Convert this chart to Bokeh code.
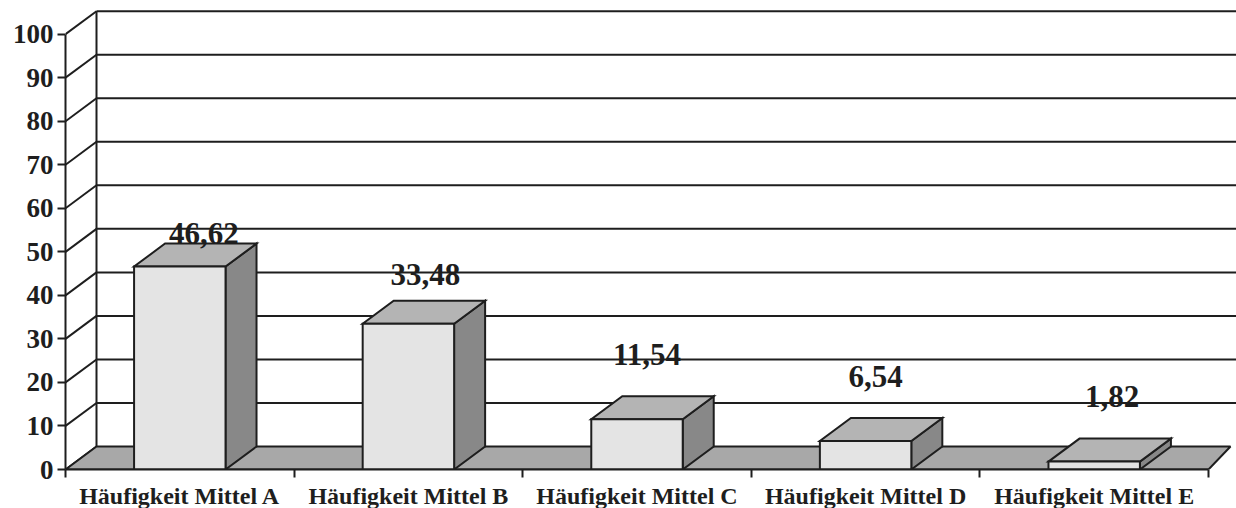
from bokeh.plotting import figure
from bokeh.models import Range1d, FixedTicker, ColumnDataSource
from bokeh.embed import file_html
from bokeh.resources import INLINE
from bokeh.core.properties import value

# ---- data ----
categories = ["Häufigkeit Mittel A", "Häufigkeit Mittel B", "Häufigkeit Mittel C",
              "Häufigkeit Mittel D", "Häufigkeit Mittel E"]
values = [46.62, 33.48, 11.54, 6.54, 1.82]
value_labels = ["46,62", "33,48", "11,54", "6,54", "1,82"]
y_ticks = [0, 10, 20, 30, 40, 50, 60, 70, 80, 90, 100]

# ---- layout / style ----
PX_CAT = 228.6          # pixels per category
PX_UNIT = 4.353         # pixels per value unit
FRAME_W, FRAME_H = 1171, 461
DDX = 31 / PX_CAT       # depth offset (x, in category units)
DDY = 23 / PX_UNIT      # depth offset (y, in value units)
FLOOR_DDX = 22 / PX_CAT
BAR_HALF = 0.2
# label placement tweaks (px), as in the reference
label_dx_px = [24, 17, 10, 10, 18]
label_dy_px = [33, 49, 65, 65, 65]

LINE = "#1e1e1e"
FONT = "Liberation Serif"
n = len(categories)

p = figure(frame_width=FRAME_W, frame_height=FRAME_H,
           x_range=Range1d(0, FRAME_W / PX_CAT), y_range=Range1d(0, FRAME_H / PX_UNIT),
           output_backend="svg", toolbar_location=None,
           min_border_left=65, min_border_right=0, min_border_top=8, min_border_bottom=39)
p.outline_line_color = None
p.xgrid.visible = False
p.ygrid.visible = False
p.background_fill_color = "white"
p.border_fill_color = "white"

xend = FRAME_W / PX_CAT

# back wall gridlines
gl = [t for t in y_ticks if t > 0]
p.segment(x0=[DDX] * len(gl), y0=[t + DDY for t in gl], x1=[xend] * len(gl),
          y1=[t + DDY for t in gl], line_color=LINE, line_width=2)
# left side wall diagonals
p.segment(x0=[0] * len(y_ticks), y0=y_ticks, x1=[DDX] * len(y_ticks),
          y1=[t + DDY for t in y_ticks], line_color=LINE, line_width=2)
# back-left vertical edge
p.segment(x0=[DDX], y0=[DDY], x1=[DDX], y1=[max(y_ticks) + DDY], line_color=LINE, line_width=2)

# floor
p.patch(x=[0, n, n + FLOOR_DDX, DDX], y=[0, 0, DDY, DDY],
        fill_color="#a8a8a8", line_color=LINE, line_width=2)

# bars
left = [i + 0.5 - BAR_HALF for i in range(n)]
right = [i + 0.5 + BAR_HALF for i in range(n)]
top_xs = [[l, r, r + DDX, l + DDX] for l, r in zip(left, right)]
top_ys = [[v, v, v + DDY, v + DDY] for v in values]
side_xs = [[r, r + DDX, r + DDX, r] for r in right]
side_ys = [[0, DDY, v + DDY, v] for v in values]

p.patches(xs=side_xs, ys=side_ys, fill_color="#888888", line_color=LINE, line_width=2,
          line_join="miter")
p.patches(xs=top_xs, ys=top_ys, fill_color="#b4b4b4", line_color=LINE, line_width=2,
          line_join="miter")
p.quad(left=left, right=right, bottom=[0] * n, top=values,
       fill_color="#e4e4e4", line_color=LINE, line_width=2, line_join="miter")

# value labels
src = ColumnDataSource(dict(
    x=[i + 0.5 + dx / PX_CAT for i, dx in enumerate(label_dx_px)],
    y=[v + dy / PX_UNIT for v, dy in zip(values, label_dy_px)],
    t=value_labels))
p.text(x="x", y="y", text="t", source=src, text_align="center", text_baseline="alphabetic",
       text_font=value(FONT), text_font_style="bold", text_font_size="31px", text_color=LINE)

# y axis
ya = p.yaxis[0]
ya.ticker = FixedTicker(ticks=y_ticks)
ya.bounds = (0, 100)
ya.axis_line_color = LINE
ya.axis_line_width = 2
ya.major_tick_line_color = LINE
ya.major_tick_line_width = 2
ya.major_tick_in = 0
ya.major_tick_out = 8
ya.minor_tick_line_color = None
ya.major_label_standoff = 4
ya.major_label_text_font = FONT
ya.major_label_text_font_style = "bold"
ya.major_label_text_font_size = "27px"
ya.major_label_text_color = LINE

# x axis
xa = p.xaxis[0]
xa.ticker = FixedTicker(ticks=[i + 0.5 for i in range(n)], minor_ticks=list(range(n + 1)))
xa.bounds = (0, n)
xa.major_label_overrides = {i + 0.5: c for i, c in enumerate(categories)}
xa.axis_line_color = LINE
xa.axis_line_width = 2
xa.major_tick_line_color = None
xa.major_tick_in = 0
xa.major_tick_out = 8
xa.minor_tick_line_color = LINE
xa.minor_tick_line_width = 2
xa.minor_tick_in = 0
xa.minor_tick_out = 8
xa.major_label_standoff = 5
xa.major_label_text_font = FONT
xa.major_label_text_font_style = "bold"
xa.major_label_text_font_size = "24px"
xa.major_label_text_color = LINE

open("out.html", "w").write(file_html(p, INLINE))
